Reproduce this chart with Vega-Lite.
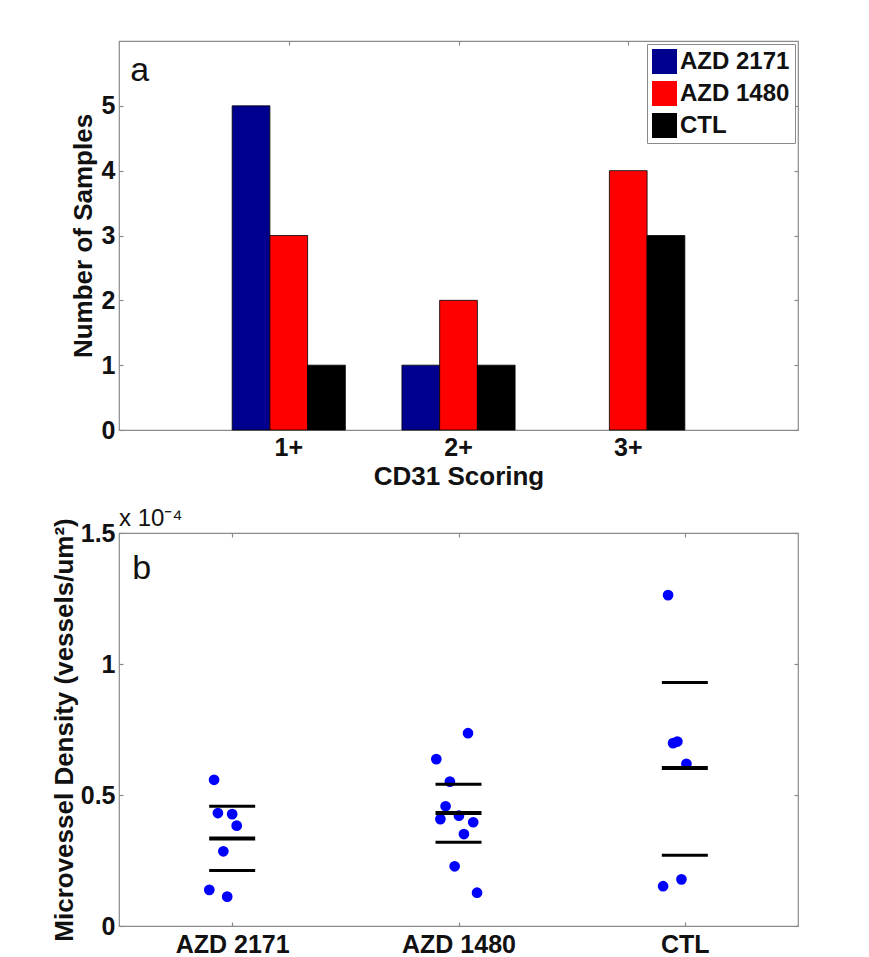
{
  "$schema": "https://vega.github.io/schema/vega-lite/v6.json",
  "background": "white",
  "padding": {"left": 50, "top": 39, "right": 5, "bottom": 5},
  "spacing": 16,
  "config": {
    "view": {"stroke": "#8a8a8a", "strokeWidth": 1.2},
    "font": "Liberation Sans",
    "axis": {
      "labelFont": "Liberation Sans", "labelFontWeight": "bold", "labelFontSize": 25, "labelColor": "#111111",
      "titleFont": "Liberation Sans", "titleFontWeight": "bold", "titleFontSize": 26, "titleColor": "#111111",
      "grid": false, "domain": false, "tickColor": "#8a8a8a", "tickSize": -4, "tickWidth": 1.2
    }
  },
  "datasets": {
    "bars": [
      {"score": "1+", "group": "AZD 2171", "count": 5},
      {"score": "1+", "group": "AZD 1480", "count": 3},
      {"score": "1+", "group": "CTL", "count": 1},
      {"score": "2+", "group": "AZD 2171", "count": 1},
      {"score": "2+", "group": "AZD 1480", "count": 2},
      {"score": "2+", "group": "CTL", "count": 1},
      {"score": "3+", "group": "AZD 2171", "count": 0},
      {"score": "3+", "group": "AZD 1480", "count": 4},
      {"score": "3+", "group": "CTL", "count": 3}
    ],
    "points": [
      {"group": "AZD 2171", "pos": 0.920, "density": 0.558},
      {"group": "AZD 2171", "pos": 0.937, "density": 0.431},
      {"group": "AZD 2171", "pos": 1.000, "density": 0.427},
      {"group": "AZD 2171", "pos": 1.020, "density": 0.383},
      {"group": "AZD 2171", "pos": 0.961, "density": 0.285},
      {"group": "AZD 2171", "pos": 0.899, "density": 0.138},
      {"group": "AZD 2171", "pos": 0.978, "density": 0.112},
      {"group": "AZD 1480", "pos": 2.042, "density": 0.736},
      {"group": "AZD 1480", "pos": 1.902, "density": 0.637},
      {"group": "AZD 1480", "pos": 1.962, "density": 0.551},
      {"group": "AZD 1480", "pos": 1.943, "density": 0.457},
      {"group": "AZD 1480", "pos": 1.920, "density": 0.408},
      {"group": "AZD 1480", "pos": 2.002, "density": 0.421},
      {"group": "AZD 1480", "pos": 2.065, "density": 0.396},
      {"group": "AZD 1480", "pos": 2.024, "density": 0.351},
      {"group": "AZD 1480", "pos": 1.983, "density": 0.228},
      {"group": "AZD 1480", "pos": 2.082, "density": 0.127},
      {"group": "CTL", "pos": 2.926, "density": 1.263},
      {"group": "CTL", "pos": 2.948, "density": 0.698},
      {"group": "CTL", "pos": 2.967, "density": 0.704},
      {"group": "CTL", "pos": 3.007, "density": 0.619},
      {"group": "CTL", "pos": 2.904, "density": 0.152},
      {"group": "CTL", "pos": 2.985, "density": 0.178}
    ],
    "stats": [
      {"group": "AZD 2171", "groupPos": 1, "stat": "upper", "value": 0.457},
      {"group": "AZD 2171", "groupPos": 1, "stat": "mean", "value": 0.334},
      {"group": "AZD 2171", "groupPos": 1, "stat": "lower", "value": 0.212},
      {"group": "AZD 1480", "groupPos": 2, "stat": "upper", "value": 0.541},
      {"group": "AZD 1480", "groupPos": 2, "stat": "mean", "value": 0.431},
      {"group": "AZD 1480", "groupPos": 2, "stat": "lower", "value": 0.320},
      {"group": "CTL", "groupPos": 3, "stat": "upper", "value": 0.929},
      {"group": "CTL", "groupPos": 3, "stat": "mean", "value": 0.603},
      {"group": "CTL", "groupPos": 3, "stat": "lower", "value": 0.270}
    ]
  },
  "vconcat": [
    {
      "width": 679,
      "height": 389,
      "layer": [
        {
          "data": {"name": "bars"},
          "mark": {"type": "bar", "stroke": "black"},
          "encoding": {
            "x": {
              "field": "score", "type": "nominal",
              "scale": {"domain": ["1+", "2+", "3+"], "paddingInner": 0.3333, "paddingOuter": 0.6667},
              "axis": {"title": "CD31 Scoring", "labelAngle": 0, "labelPadding": 9, "titlePadding": 3}
            },
            "xOffset": {
              "field": "group", "type": "nominal",
              "scale": {"domain": ["AZD 2171", "AZD 1480", "CTL"], "paddingInner": 0, "paddingOuter": 0}
            },
            "y": {
              "field": "count", "type": "quantitative",
              "scale": {"domain": [0, 6], "nice": false},
              "axis": {"title": "Number of Samples", "values": [0, 1, 2, 3, 4, 5], "labelPadding": 8, "titlePadding": 5}
            },
            "strokeWidth": {"condition": {"test": "datum.count == 0", "value": 0}, "value": 0.8},
            "color": {
              "field": "group", "type": "nominal",
              "scale": {"domain": ["AZD 2171", "AZD 1480", "CTL"], "range": ["#00008f", "#ff0000", "#000000"]},
              "legend": {
                "title": null, "orient": "top-right", "offset": 3,
                "fillColor": "white", "strokeColor": "#8a8a8a", "padding": 5, "cornerRadius": 0,
                "symbolType": "square", "symbolSize": 625, "symbolStrokeWidth": 0,
                "labelFont": "Liberation Sans", "labelFontSize": 24, "labelFontWeight": "bold", "labelColor": "#111111",
                "labelOffset": 3, "rowPadding": 7
              }
            }
          }
        },
        {
          "data": {"values": [{}]},
          "mark": {"type": "text", "text": "a", "fontSize": 34, "align": "left", "baseline": "alphabetic", "font": "Liberation Sans", "color": "#111111"},
          "encoding": {
            "x": {
              "datum": 0.067, "type": "quantitative",
              "scale": {"domain": [0, 4], "nice": false, "zero": false},
              "axis": {"orient": "top", "values": [1, 2, 3], "labels": false, "title": null}
            },
            "y": {
              "datum": 5.38, "type": "quantitative",
              "axis": {"orient": "right", "values": [0, 1, 2, 3, 4, 5], "labels": false, "title": null}
            }
          }
        }
      ],
      "resolve": {"scale": {"x": "independent"}, "axis": {"x": "independent", "y": "independent"}}
    },
    {
      "width": 679,
      "height": 393,
      "layer": [
        {
          "data": {"name": "points"},
          "mark": {"type": "circle", "color": "#0000ff", "opacity": 1, "size": 115},
          "encoding": {
            "x": {
              "field": "pos", "type": "quantitative",
              "scale": {"domain": [0.5, 3.5], "nice": false, "zero": false},
              "axis": {"values": [1, 2, 3], "labelExpr": "datum.value == 1 ? 'AZD 2171' : datum.value == 2 ? 'AZD 1480' : 'CTL'", "title": null, "labelPadding": 10}
            },
            "y": {
              "field": "density", "type": "quantitative",
              "scale": {"domain": [0, 1.5], "nice": false},
              "axis": {"values": [0, 0.5, 1, 1.5], "labelExpr": "'' + datum.value", "title": "Microvessel Density (vessels/um²)", "labelPadding": 8, "titlePadding": 3}
            }
          }
        },
        {
          "data": {"name": "stats"},
          "transform": [{"filter": "datum.stat == 'mean'"}],
          "mark": {"type": "tick", "orient": "horizontal", "thickness": 4, "size": 46, "color": "black", "opacity": 1},
          "encoding": {
            "x": {"field": "groupPos", "type": "quantitative", "axis": null},
            "y": {"field": "value", "type": "quantitative", "axis": null}
          }
        },
        {
          "data": {"name": "stats"},
          "transform": [{"filter": "datum.stat != 'mean'"}],
          "mark": {"type": "tick", "orient": "horizontal", "thickness": 3, "size": 46, "color": "black", "opacity": 1},
          "encoding": {
            "x": {"field": "groupPos", "type": "quantitative", "axis": null},
            "y": {"field": "value", "type": "quantitative", "axis": null}
          }
        },
        {
          "data": {"values": [{}]},
          "mark": {"type": "text", "text": "b", "fontSize": 34, "align": "left", "baseline": "alphabetic", "font": "Liberation Sans", "color": "#111111"},
          "encoding": {
            "x": {"datum": 0.559, "type": "quantitative", "axis": {"orient": "top", "values": [1, 2, 3], "labels": false, "title": null}},
            "y": {"datum": 1.323, "type": "quantitative", "axis": {"orient": "right", "values": [0, 0.5, 1, 1.5], "labels": false, "title": null}}
          }
        },
        {
          "data": {"values": [{}]},
          "mark": {"type": "text", "text": "x 10⁻⁴", "fontSize": 24, "align": "left", "baseline": "bottom", "dy": -2, "font": "Liberation Sans", "color": "#111111"},
          "encoding": {
            "x": {"datum": 0.5, "type": "quantitative", "axis": null},
            "y": {"datum": 1.5, "type": "quantitative", "axis": null}
          }
        }
      ],
      "resolve": {"axis": {"x": "independent", "y": "independent"}}
    }
  ]
}
